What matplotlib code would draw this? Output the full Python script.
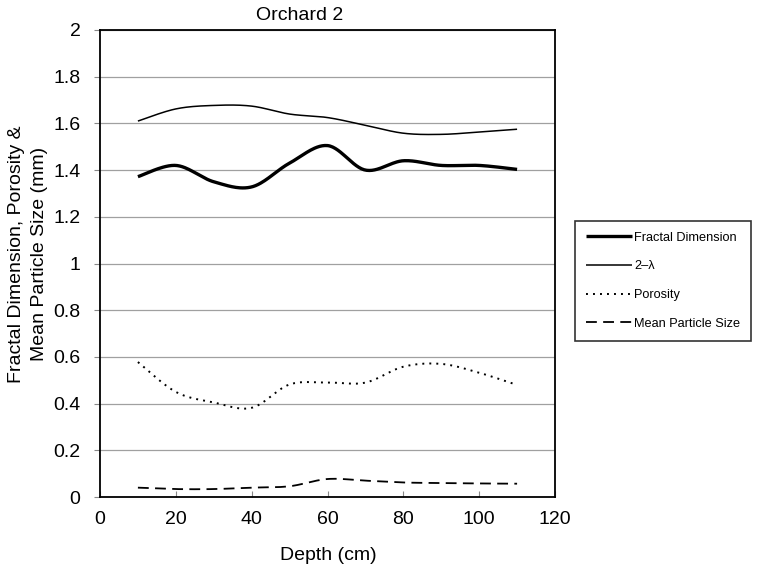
import numpy as np
import matplotlib
matplotlib.use("Agg")
import matplotlib.pyplot as plt

plt.rcParams['font.family'] = ['Liberation Sans', 'DejaVu Sans']

depth = [10, 20, 30, 40, 50, 60, 70, 80, 90, 100, 110]
fractal_dimension = [1.372, 1.420, 1.350, 1.328, 1.430, 1.505, 1.400, 1.440, 1.420, 1.420, 1.403]
two_lambda = [1.610, 1.662, 1.677, 1.674, 1.640, 1.625, 1.592, 1.558, 1.553, 1.563, 1.575]
porosity = [0.578, 0.450, 0.405, 0.382, 0.482, 0.490, 0.490, 0.558, 0.570, 0.532, 0.480]
mean_particle_size = [0.040, 0.034, 0.034, 0.040, 0.046, 0.077, 0.070, 0.062, 0.060, 0.058, 0.057]

labels = ["Fractal Dimension", "2\u2013\u03bb", "Porosity", "Mean Particle Size"]
x_ticks = [0, 20, 40, 60, 80, 100, 120]
y_ticks = [0, 0.2, 0.4, 0.6, 0.8, 1, 1.2, 1.4, 1.6, 1.8, 2]
y_ticklabels = ["0", "0.2", "0.4", "0.6", "0.8", "1", "1.2", "1.4", "1.6", "1.8", "2"]


def smooth(xs, ys, n=30):
    # Excel-style smoothed line: cubic Bezier through points (Catmull-Rom tangents)
    p = np.column_stack([xs, ys]).astype(float)
    pts = np.vstack([p[0], p, p[-1]])
    out = []
    t = np.linspace(0, 1, n)[:, None]
    for i in range(1, len(pts) - 2):
        p0, p1, p2, p3 = pts[i - 1], pts[i], pts[i + 1], pts[i + 2]
        c1 = p1 + (p2 - p0) / 6.0
        c2 = p2 - (p3 - p1) / 6.0
        seg = ((1 - t) ** 3) * p1 + 3 * ((1 - t) ** 2) * t * c1 + 3 * (1 - t) * t ** 2 * c2 + t ** 3 * p2
        out.append(seg if i == 1 else seg[1:])
    arr = np.vstack(out)
    return arr[:, 0], arr[:, 1]


W, H = 760, 571
fig = plt.figure(figsize=(W / 100, H / 100), dpi=100)
ax = fig.add_axes([100 / W, 1 - 497 / H, 455 / W, 467 / H])

series = [fractal_dimension, two_lambda, porosity, mean_particle_size]
styles = [
    dict(color="black", lw=2.4, ls="-"),
    dict(color="black", lw=1.1, ls="-"),
    dict(color="black", lw=1.4, ls=(0, (1, 2.6))),
    dict(color="black", lw=1.3, ls=(0, (6, 3.5))),
]
handles = []
for vals, st, lab in zip(series, styles, labels):
    sx, sy = smooth(depth, vals)
    ln, = ax.plot(sx, sy, label=lab, solid_capstyle="butt", dash_capstyle="butt", **st)
    handles.append(ln)

ax.set_xlim(0, 120)
ax.set_ylim(0, 2)
ax.set_xticks(x_ticks)
ax.set_yticks(y_ticks)
ax.set_yticklabels(y_ticklabels)
ax.tick_params(axis="x", direction="in", length=4, labelsize=14, pad=10, width=0.8, color="#888888")
ax.tick_params(axis="y", direction="out", length=4, labelsize=14, pad=10, width=0.8, color="#888888")
ax.yaxis.grid(True, color="#a0a0a0", lw=0.9)
ax.set_axisbelow(True)
for s in ax.spines.values():
    s.set_linewidth(1.3)
    s.set_color("black")

fig.text(328 / W, 1 - 555 / H, "Depth (cm)", fontsize=14, ha="center", va="center")
fig.text(28 / W, 1 - 254 / H, "Fractal Dimension, Porosity &\nMean Particle Size (mm)",
         fontsize=14, ha="center", va="center", rotation=90, linespacing=1.4, multialignment="center")
fig.text(300 / W, 1 - 15 / H, "Orchard 2", fontsize=14, ha="center", va="center")

leg = fig.legend(handles=handles, labels=labels,
                 loc="upper left", bbox_to_anchor=(575 / W, 1 - 221 / H),
                 frameon=True, fancybox=False, edgecolor="black", fontsize=9.2,
                 handlelength=3.6, handletextpad=0.2, labelspacing=1.3,
                 borderpad=0.85, borderaxespad=0)
leg.get_frame().set_linewidth(1.2)

fig.savefig("out.png", dpi=100)
